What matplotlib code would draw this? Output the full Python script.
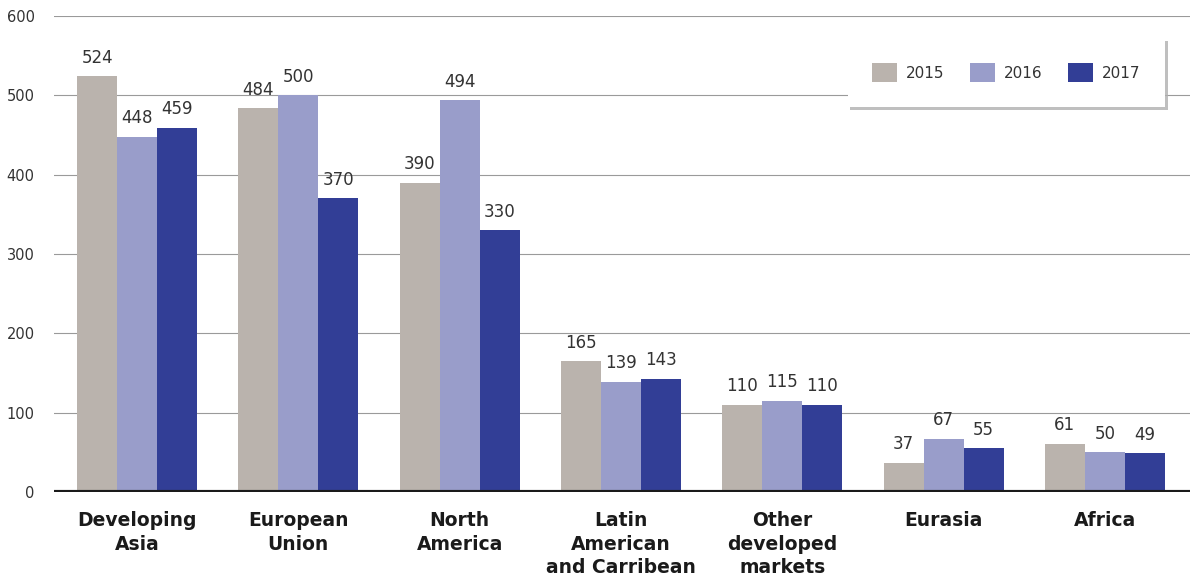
import matplotlib
matplotlib.use("Agg")
import matplotlib.pyplot as plt
import numpy as np

categories = ["Developing\nAsia", "European\nUnion", "North\nAmerica",
              "Latin\nAmerican\nand Carribean", "Other\ndeveloped\nmarkets",
              "Eurasia", "Africa"]
years = ["2015", "2016", "2017"]
v2015 = [524, 484, 390, 165, 110, 37, 61]
v2016 = [448, 500, 494, 139, 115, 67, 50]
v2017 = [459, 370, 330, 143, 110, 55, 49]
colors = ["#bab3ad", "#999dca", "#323e96"]

plt.rcParams['font.family'] = ['DejaVu Sans']

fig = plt.figure(figsize=(11.9, 5.79), dpi=100)
ax = fig.add_axes([54 / 1190, 87 / 579, 1 - 54 / 1190, (492 - 16) / 579])

x = np.arange(len(categories))
w = 0.248
for k, (vals, col, yr) in enumerate(zip([v2015, v2016, v2017], colors, years)):
    pos = x + (k - 1) * w
    ax.bar(pos, vals, width=w, color=col, label=yr, zorder=2)
    for p, v in zip(pos, vals):
        ax.text(p, v + 12, str(v), ha="center", va="bottom", fontsize=12, color="#333333")

ax.set_xlim(-0.515, 6.528)
ax.set_ylim(0, 600)
ax.set_yticks(range(0, 601, 100))
ax.yaxis.grid(True, color="#9a9a9a", linewidth=0.8, zorder=0)
ax.set_axisbelow(True)
ax.axhline(0, color="#1a1a1a", linewidth=3, zorder=3)
for s in ax.spines.values():
    s.set_visible(False)
ax.tick_params(axis="y", length=0, labelsize=10.5, labelcolor="#333333", pad=14)
ax.tick_params(axis="x", length=0, pad=14)
ax.set_xticks(x)
ax.set_xticklabels(categories, fontsize=13.5, fontweight="heavy", color="#1a1a1a",
                   va="top", linespacing=1.3)

leg = ax.legend(loc="upper right", bbox_to_anchor=(0.978, 0.953), ncol=3, frameon=True,
                shadow={"color": "#b0b0b0", "alpha": 0.8}, framealpha=1,
                facecolor="white", fontsize=11,
                handlelength=1.6, handleheight=1.6, columnspacing=1.7,
                borderpad=1.6, handletextpad=0.6, borderaxespad=0, fancybox=False)
leg.get_frame().set_linewidth(0)
leg.set_zorder(5)
for t in leg.get_texts():
    t.set_color("#333333")

fig.savefig("out.png", dpi=100)
